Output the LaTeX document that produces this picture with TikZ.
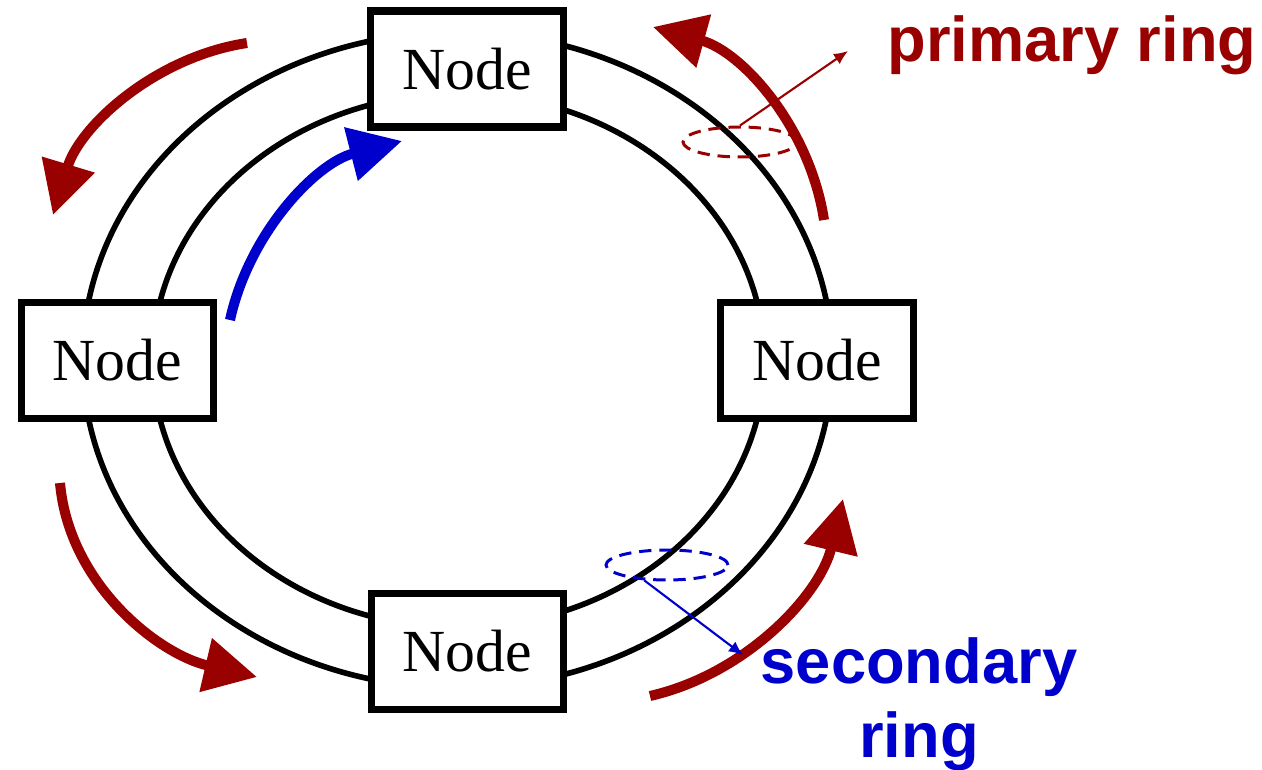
\documentclass[tikz,border=0pt]{standalone}
\usepackage{fontspec}
\setmainfont{Liberation Serif}
\newfontfamily\labelfont{Liberation Sans}
\usetikzlibrary{arrows.meta,shapes.geometric}
\definecolor{ringred}{RGB}{153,0,0}
\definecolor{ringblue}{RGB}{0,0,204}

\begin{document}
\begin{tikzpicture}[x=0.02cm, y=-0.02cm,
  station/.style={draw, line width=4pt, fill=white, minimum width=3.86cm, minimum height=2.32cm, inner sep=0pt, font=\fontsize{34}{40}\selectfont},
  flow/.style={line width=5.7pt, -{Triangle[length=30pt,width=30pt]}},
  pointer/.style={line width=1.2pt, -{Latex[length=8pt,width=7pt]}},
  marker/.style={ellipse, draw, line width=1.7pt, dash pattern=on 7pt off 4.5pt, inner sep=0pt, minimum height=0.6cm},
  tag/.style={font=\labelfont\bfseries\fontsize{36}{42.5}\selectfont, align=center, inner sep=0pt}
]
\useasboundingbox (0,0) rectangle (1262,770);

% the two rings
\draw[line width=3.2pt] (457.5,360) ellipse [x radius=7.5cm, y radius=6.56cm];
\draw[line width=3.2pt] (458.5,360.5) ellipse [x radius=6.12cm, y radius=5.34cm];

% stations on the ring
\foreach \n/\x/\y in {top/467/69, lft/117.5/360.5, rgt/817/360.5, bot/467.5/651.5}
  \node[station] (\n) at (\x,\y) {Node};

% direction of traffic
\draw[flow, ringred] (247,43) .. controls (155,57) and (80,126) .. (53,215);
\draw[flow, ringred] (824,220) .. controls (810,128) and (743,52) .. (653,27);
\draw[flow, ringred] (60,483) .. controls (69,584) and (158,654) .. (257,677);
\draw[flow, ringred] (650,696) .. controls (746,674) and (820,595) .. (843,499);
\draw[flow, ringblue] (230,320) .. controls (249,233) and (316,163) .. (402,141);

% markers and labels
\node[marker, ringred, minimum width=2.28cm] (prim) at (740,142) {};
\node[marker, ringblue, minimum width=2.44cm] (sec) at (667,565) {};
\coordinate (primtip) at (848,51);
\coordinate (sectip) at (743,655);
\draw[pointer, ringred] (prim.north) -- (primtip);
\draw[pointer, ringblue] (sec.214) -- (sectip);

\node[tag, ringred, anchor=base west] (primlabel) at (887,62) {primary ring};
\node[tag, ringblue, anchor=north] (seclabel) at (919,637) {secondary\\ring};
\end{tikzpicture}
\end{document}
